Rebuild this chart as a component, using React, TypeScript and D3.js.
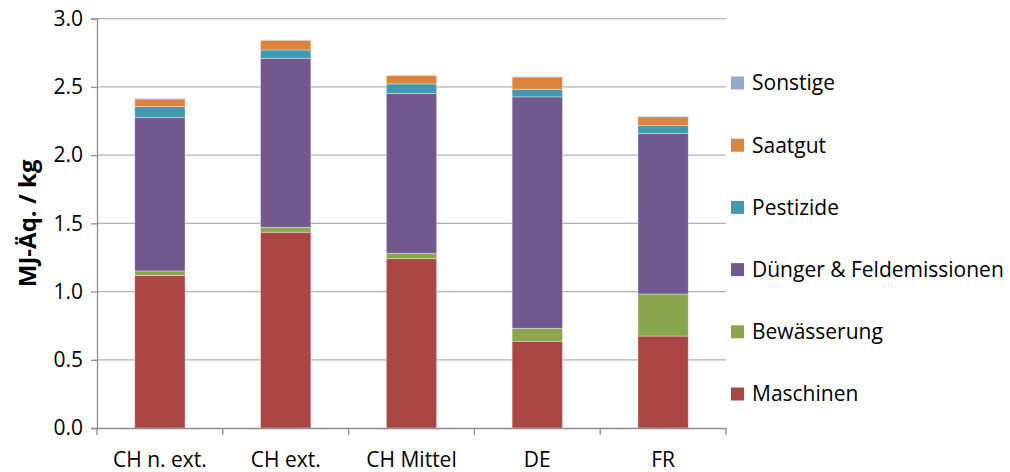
import * as d3 from "d3";
import { useEffect, useRef } from "react";

const categories = ["CH n. ext.", "CH ext.", "CH Mittel", "DE", "FR"];
const seriesNames = ["Maschinen", "Bewässerung", "Dünger & Feldemissionen", "Pestizide", "Saatgut", "Sonstige"];
const maschinen = [1.117, 1.435, 1.241, 0.636, 0.674];
const bewaesserung = [0.034, 0.036, 0.04, 0.095, 0.308];
const duenger = [1.124, 1.239, 1.17, 1.696, 1.176];
const pestizide = [0.081, 0.061, 0.071, 0.056, 0.058];
const saatgut = [0.056, 0.071, 0.061, 0.09, 0.066];
const sonstige = [0.004, 0.003, 0.003, 0.003, 0.003];
const colors = ["#AA4643", "#89A54E", "#71588F", "#4198AF", "#DB843D", "#93A9CF"];
const yTicks = [0, 0.5, 1, 1.5, 2, 2.5, 3];

const W = 1010;
const H = 472;
const FONT = "'Open Sans', 'Noto Sans', sans-serif";
const FS = 21;

const App = () => {
  const ref = useRef<SVGSVGElement | null>(null);

  useEffect(() => {
    if (!ref.current) return;
    const svg = d3.select(ref.current);
    svg.selectAll("*").remove();

    const left = 97;
    const right = 726;
    const top = 18.7;
    const bottom = 428;

    const values = [maschinen, bewaesserung, duenger, pestizide, saatgut, sonstige];
    const rows = categories.map((c, i) => {
      const r: Record<string, any> = { cat: c };
      seriesNames.forEach((s, j) => (r[s] = values[j][i]));
      return r;
    });
    const stacked = d3.stack<Record<string, any>>().keys(seriesNames)(rows);

    const x = d3.scaleBand<string>().domain(categories).range([left, right]).paddingInner(0.6).paddingOuter(0.3);
    const xb = d3.scaleBand<string>().domain(categories).range([left, right]);
    const y = d3.scaleLinear().domain([0, 3]).range([bottom, top]);

    // gridlines
    svg
      .append("g")
      .selectAll("line")
      .data(yTicks.slice(1))
      .join("line")
      .attr("x1", left)
      .attr("x2", right)
      .attr("y1", (d) => y(d))
      .attr("y2", (d) => y(d))
      .attr("stroke", "#b0b0b0")
      .attr("stroke-width", 1.3);

    // bars
    svg
      .append("g")
      .selectAll("g")
      .data(stacked)
      .join("g")
      .attr("fill", (_, i) => colors[i])
      .selectAll("rect")
      .data((d) => d)
      .join("rect")
      .attr("x", (d) => x(d.data.cat)!)
      .attr("width", x.bandwidth())
      .attr("y", (d) => y(d[1]))
      .attr("height", (d) => y(d[0]) - y(d[1]))
      .attr("stroke", "rgba(255,255,255,0.45)")
      .attr("stroke-width", 0.8);

    // y axis
    const yAxis = svg
      .append("g")
      .attr("transform", `translate(${left},0)`)
      .call(d3.axisLeft(y).tickValues(yTicks).tickFormat(d3.format(".1f")).tickSize(6).tickPadding(8));
    yAxis.select(".domain").attr("stroke", "#8c8c8c").attr("stroke-width", 1.3);
    yAxis.selectAll(".tick line").attr("stroke", "#8c8c8c").attr("stroke-width", 1.3);
    yAxis
      .selectAll("text")
      .attr("font-family", FONT)
      .attr("font-size", FS)
      .attr("fill", "#000");

    // x axis
    const xAxis = svg
      .append("g")
      .attr("transform", `translate(0,${bottom})`)
      .call(d3.axisBottom(xb).tickSize(0).tickPadding(24));
    xAxis.select(".domain").attr("stroke", "#8c8c8c").attr("stroke-width", 1.3);
    xAxis.selectAll("text").attr("font-family", FONT).attr("font-size", FS).attr("fill", "#000");
    xAxis
      .append("g")
      .selectAll("line")
      .data([...categories.map((c) => xb(c)!), right])
      .join("line")
      .attr("x1", (d) => d)
      .attr("x2", (d) => d)
      .attr("y1", 0)
      .attr("y2", 7)
      .attr("stroke", "#8c8c8c")
      .attr("stroke-width", 1.3);

    // y title
    svg
      .append("text")
      .attr("transform", `translate(36,${(top + bottom) / 2}) rotate(-90)`)
      .attr("text-anchor", "middle")
      .attr("font-family", FONT)
      .attr("font-weight", "bold")
      .attr("font-size", 24)
      .text("MJ-Äq. / kg");

    // legend (top item = last series)
    const legendNames = [...seriesNames].reverse();
    const legendColors = [...colors].reverse();
    const lg = svg
      .append("g")
      .selectAll("g")
      .data(legendNames)
      .join("g")
      .attr("transform", (_, i) => `translate(731,${83 + i * 62.2})`);
    lg.append("rect")
      .attr("x", 0)
      .attr("y", -6.5)
      .attr("width", 13)
      .attr("height", 13)
      .attr("fill", (_, i) => legendColors[i]);
    lg.append("text")
      .attr("x", 21)
      .attr("dy", "0.35em")
      .attr("font-family", FONT)
      .attr("font-size", FS)
      .attr("fill", "#000")
      .text((d) => d);
  }, []);

  return (
    <svg
      ref={ref}
      width={W}
      height={H}
      style={{ position: "absolute", left: 0, top: 0, background: "#fff" }}
    />
  );
};

export default App;
